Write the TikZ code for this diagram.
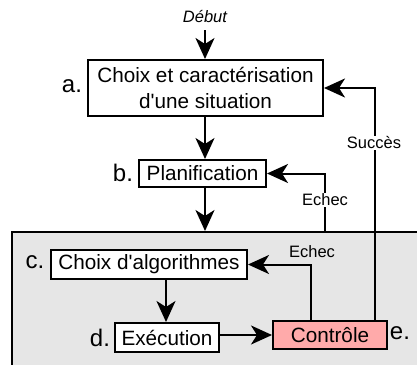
\documentclass[tikz,border=0pt]{standalone}
\usepackage{fontspec}
\setmainfont{Liberation Sans}
\usetikzlibrary{arrows.meta}
\definecolor{grpgray}{HTML}{E6E6E6}
\definecolor{ctlpink}{HTML}{FFAAAA}
\begin{document}
\begin{tikzpicture}[x=1pt,y=-1pt,
  box/.style={draw,line width=2pt,fill=white,inner sep=0pt,align=center,
    font=\fontsize{20.7}{26}\selectfont},
  lbl/.style={inner sep=0pt,font=\fontsize{24}{28}\selectfont},
  small/.style={inner sep=1pt,font=\fontsize{16.5}{20}\selectfont},
  conn/.style={line width=2pt,-{Stealth[length=21pt,width=19pt,inset=6pt]}},
  plain/.style={line width=2pt}]
\useasboundingbox (0,0) rectangle (417,364);
\clip (0,0) rectangle (417,364);
\node[draw,line width=2pt,fill=grpgray,minimum width=418pt,minimum height=148pt,inner sep=0pt] (grp) at (221,306) {};
\node[small,font=\fontsize{16.5}{20}\selectfont\itshape] (debut) at (205,17) {Début};
\node[box,minimum width=235pt,minimum height=56pt] (a) at (205.5,88) {Choix et caractérisation\\d\textquotesingle une situation};
\node[box,minimum width=127pt,minimum height=27pt] (b) at (202.5,173.5) {Planification};
\node[box,minimum width=196pt,minimum height=29pt] (c) at (149,264.5) {Choix d\textquotesingle algorithmes};
\node[box,minimum width=104pt,minimum height=29pt] (d) at (167,337.5) {Exécution};
\node[box,fill=ctlpink,minimum width=114pt,minimum height=28pt] (e) at (330,335) {Contrôle};
\node[lbl] (la) at (72,86) {a.};
\node[lbl] (lb) at (123,173) {b.};
\node[lbl] (lc) at (35,262) {c.};
\node[lbl] (ld) at (100,338) {d.};
\node[lbl] (le) at (400,333) {e.};
\coordinate (dtop) at (205,30);
\draw[conn] (dtop) -- (dtop |- a.north);
\draw[conn] (a.south -| dtop) -- (dtop |- b.north);
\draw[conn] (b.south -| dtop) -- (dtop |- grp.north);
\coordinate (ech1) at (325,173.5);
\draw[conn] (grp.north -| ech1) -- (ech1) -- (b.east);
\node[small,fill=white] (echec1) at (325,200) {Echec};
\coordinate (suc) at (375,88);
\draw[conn] (e.north -| suc) -- (suc) -- (a.east);
\node[small,fill=white] (succes) at (374,143) {Succès};
\coordinate (ech2) at (311,264.5);
\draw[conn] (e.north -| ech2) -- (ech2) -- (c.east);
\node[small] (echec2) at (312,252) {Echec};
\coordinate (cd) at (166,0);
\draw[conn] (c.south -| cd) -- (d.north -| cd);
\draw[conn] (e.west -| d.east) -- (e.west);
\end{tikzpicture}
\end{document}
